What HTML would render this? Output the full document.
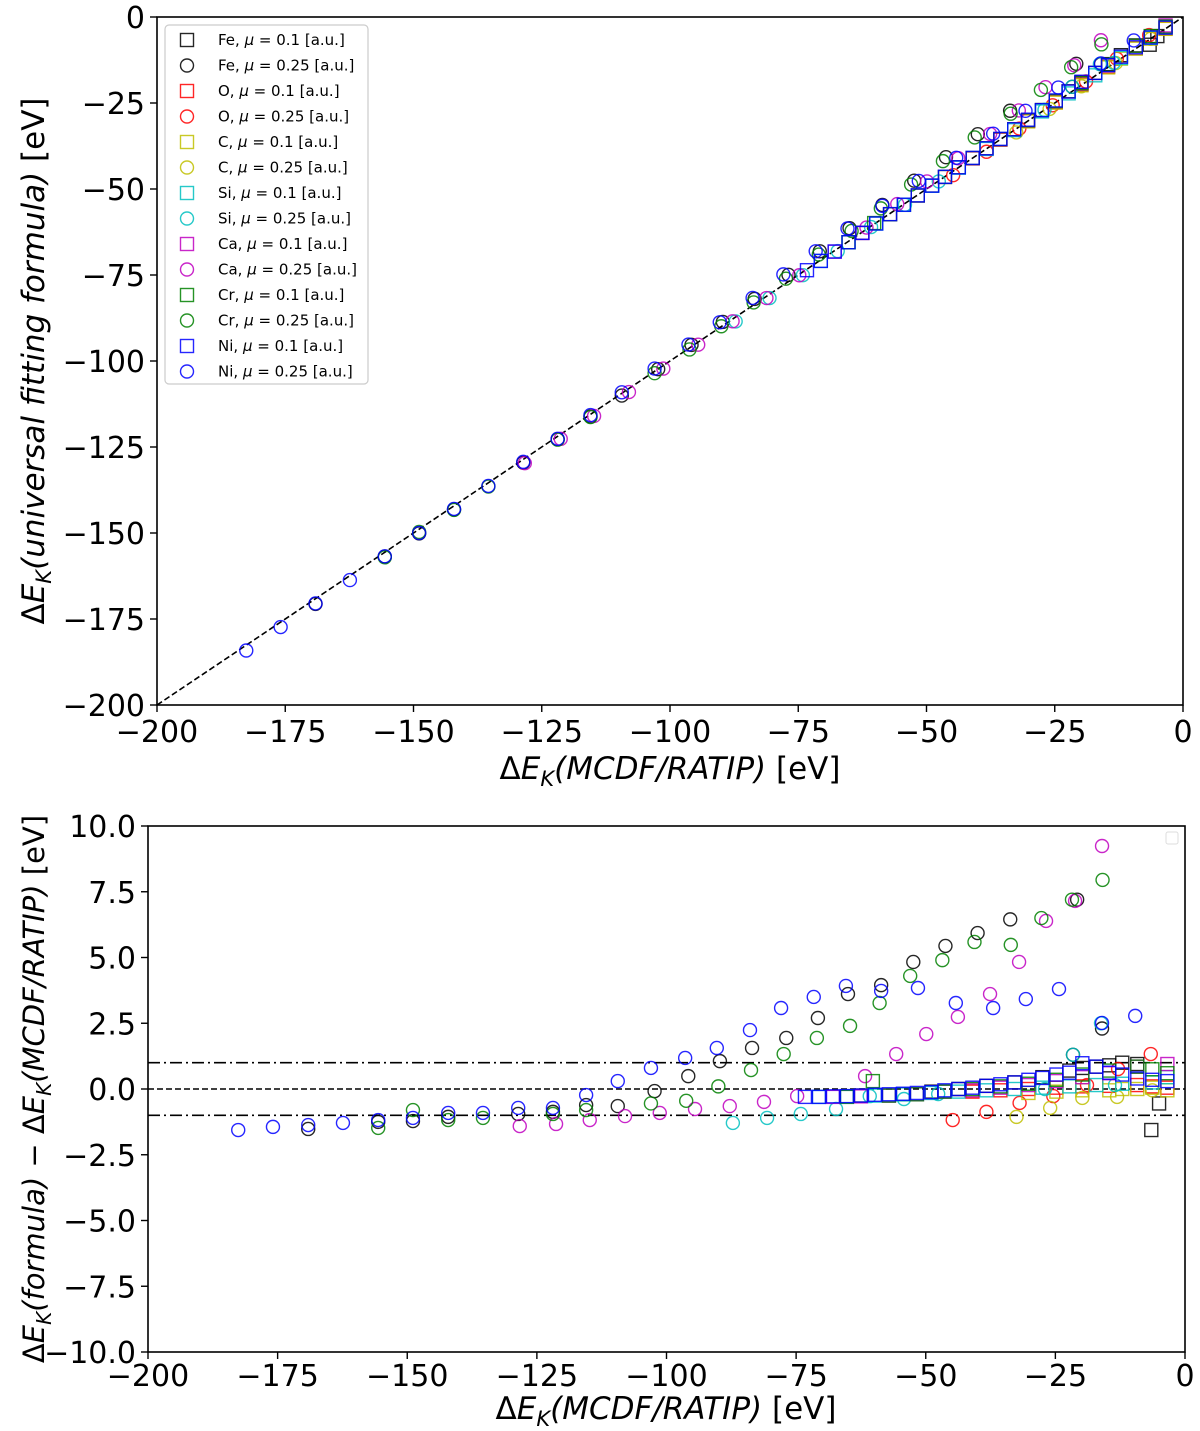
<!DOCTYPE html>
<html><head><meta charset="utf-8"><style>
body{margin:0;background:#fff;}
svg{display:block;font-family:"DejaVu Sans","Liberation Sans",sans-serif;}
</style></head><body>
<svg id="chart" width="1200" height="1431" viewBox="0 0 1200 1431" xmlns="http://www.w3.org/2000/svg">
<g id="topPanel"></g>
<g id="botPanel"></g>
</svg>
<script>
// ---- data: x = dE_K(MCDF/RATIP), r = formula - MCDF ----
const seriesNames = ["Fe","Fe","O","O","C","C","Si","Si","Ca","Ca","Cr","Cr","Ni","Ni"];
const seriesMu = ["0.1","0.25","0.1","0.25","0.1","0.25","0.1","0.25","0.1","0.25","0.1","0.25","0.1","0.25"];
const seriesColors = ["#000","#000","#f00","#f00","#bfbf00","#bfbf00","#00bfbf","#00bfbf","#bf00bf","#bf00bf","#008000","#008000","#00f","#00f"];
const feSqX = [-62.5,-54.4,-48.9,-43.7,-38.3,-32.9,-27.5,-22.3,-19.8,-17.1,-14.6,-12.1,-9.2,-5.0,-6.5];
const feSqR = [-0.25,-0.2,-0.1,0.0,0.12,0.25,0.45,0.7,0.8,0.85,0.9,1.0,0.95,-0.55,-1.56];
const feCiX = [-169.1,-155.6,-148.9,-142.1,-128.6,-121.9,-115.5,-109.4,-102.3,-95.8,-89.7,-83.5,-76.9,-70.8,-65.0,-58.6,-52.4,-46.2,-40.0,-33.7,-20.8,-16.0,-21.6];
const feCiR = [-1.52,-1.25,-1.22,-1.06,-0.95,-0.87,-0.61,-0.65,-0.08,0.49,1.06,1.56,1.94,2.70,3.61,3.95,4.83,5.44,5.93,6.45,7.2,2.3,1.3];
const oSqX = [-41.0,-35.6,-30.2,-24.8,-19.8,-14.6,-9.2,-6.3,-3.4];
const oSqR = [-0.1,-0.05,0.0,0.05,0.1,0.12,0.15,0.1,0.05];
const oCiX = [-44.8,-38.3,-31.9,-25.4,-18.9,-12.9,-6.6];
const oCiR = [-1.18,-0.87,-0.53,-0.27,0.15,0.76,1.33];
const cSqX = [-30.2,-24.8,-19.8,-14.6,-12.1,-9.2,-6.3,-3.4];
const cSqR = [-0.15,-0.1,-0.05,-0.05,0.0,0.0,0.05,-0.05];
const cCiX = [-32.5,-26.0,-19.8,-13.1,-6.3];
const cCiR = [-1.06,-0.72,-0.34,-0.3,-0.05];
const siSqX = [-70.6,-65.2,-59.8,-54.4,-48.9,-43.7,-38.3,-32.9,-27.5,-22.3,-17.1,-12.1,-6.3,-3.4];
const siSqR = [-0.3,-0.28,-0.25,-0.2,-0.15,-0.1,-0.05,0.0,0.05,0.1,0.15,0.2,0.25,0.45];
const siCiX = [-87.2,-80.6,-74.1,-67.3,-60.8,-54.2,-47.6,-27.0,-21.6,-16.2,-13.5];
const siCiR = [-1.29,-1.10,-0.95,-0.76,-0.27,-0.38,-0.19,0.0,1.3,2.5,0.15];
const caSqX = [-67.9,-62.5,-57.1,-51.7,-46.4,-41.0,-35.6,-30.2,-24.8,-19.8,-14.6,-9.2,-3.4];
const caSqR = [-0.3,-0.28,-0.25,-0.2,-0.1,-0.05,0.05,0.15,0.3,0.45,0.6,0.85,0.95];
const caCiX = [-128.3,-121.3,-114.8,-108.0,-101.3,-94.5,-87.8,-81.2,-74.8,-61.7,-55.7,-49.9,-43.8,-37.6,-32.0,-26.8,-21.2,-16.0];
const caCiR = [-1.41,-1.33,-1.18,-1.03,-0.91,-0.76,-0.65,-0.49,-0.27,0.49,1.33,2.09,2.74,3.61,4.83,6.39,7.15,9.24];
const crSqX = [-65.2,-60.2,-57.1,-51.7,-46.4,-41.0,-35.6,-30.2,-24.8,-19.8,-14.6,-9.2,-6.3,-3.4];
const crSqR = [-0.3,0.3,-0.25,-0.2,-0.1,0.0,0.1,0.2,0.35,0.55,0.7,0.85,0.75,0.6];
const crCiX = [-155.6,-148.9,-142.1,-135.4,-121.9,-115.5,-103.0,-96.2,-90.0,-83.7,-77.4,-71.0,-64.6,-58.9,-53.0,-46.8,-40.6,-33.6,-27.7,-21.8,-15.9];
const crCiR = [-1.48,-0.8,-1.18,-1.10,-0.95,-0.80,-0.55,-0.45,0.1,0.72,1.33,1.94,2.40,3.27,4.30,4.90,5.59,5.48,6.5,7.2,7.95];
const niSqX = [-73.3,-70.6,-67.9,-65.2,-62.5,-59.8,-57.1,-54.4,-51.7,-48.9,-46.4,-43.7,-41.0,-38.3,-35.6,-32.9,-30.2,-27.5,-24.8,-22.3,-19.8,-17.1,-14.6,-12.1,-9.2,-6.3,-3.4];
const niSqR = [-0.30,-0.30,-0.28,-0.27,-0.25,-0.22,-0.20,-0.18,-0.15,-0.12,-0.05,0.0,0.05,0.12,0.18,0.25,0.35,0.42,0.55,0.62,0.98,0.85,0.62,0.55,0.40,0.35,0.30];
const niCiX = [-182.6,-175.9,-169.1,-162.4,-155.6,-148.9,-142.1,-135.4,-128.6,-121.9,-115.5,-109.4,-103.0,-96.4,-90.3,-83.9,-77.9,-71.6,-65.4,-58.6,-51.5,-44.2,-37.0,-30.7,-24.3,-16.0,-9.6];
const niCiR = [-1.56,-1.44,-1.37,-1.29,-1.18,-1.10,-0.91,-0.91,-0.72,-0.72,-0.23,0.30,0.80,1.18,1.56,2.24,3.08,3.50,3.92,3.73,3.84,3.27,3.08,3.42,3.80,2.51,2.78];
const topTicksX = [-200,-175,-150,-125,-100,-75,-50,-25,0];
const topTicksY = [0,-25,-50,-75,-100,-125,-150,-175,-200];
const botTicksY = [10,7.5,5,2.5,0,-2.5,-5,-7.5,-10];

const allX = [feSqX,feCiX,oSqX,oCiX,cSqX,cCiX,siSqX,siCiX,caSqX,caCiX,crSqX,crCiX,niSqX,niCiX];
const allR = [feSqR,feCiR,oSqR,oCiR,cSqR,cCiR,siSqR,siCiR,caSqR,caCiR,crSqR,crCiR,niSqR,niCiR];

const NS="http://www.w3.org/2000/svg";
function mk(tag,attrs,parent){const e=document.createElementNS(NS,tag);for(const k in attrs)e.setAttribute(k,attrs[k]);parent.appendChild(e);return e;}
const X1=v=>157+(v+200)*5.13, Y1=v=>17-v*3.44;
const X2=v=>148+(v+200)*5.185, Y2=v=>1089-v*26.3;
const fmt=v=>(v<0?"\u2212":"")+Math.abs(v);
const fmt1=v=>(v<0?"\u2212":"")+Math.abs(v).toFixed(1);

function marker(g,i,cx,cy,name){
  const col=seriesColors[i];let e;
  if(i%2===0){e=mk("rect",{x:cx-6.5,y:cy-6.5,width:13,height:13,fill:"none",stroke:col,"stroke-width":1.4,opacity:0.85},g);}
  else{e=mk("circle",{cx:cx,cy:cy,r:6.5,fill:"none",stroke:col,"stroke-width":1.4,opacity:0.85},g);}
  
  
}

// ---- top panel ----
const topG=document.getElementById("topPanel");
let ln=mk("line",{x1:X1(-200),y1:Y1(-200),x2:X1(0),y2:Y1(0),stroke:"#000","stroke-width":1.6,"stroke-dasharray":"6,3"},topG);


for(let i=0;i<14;i++){for(let j=0;j<allX[i].length;j++){const x=allX[i][j];marker(topG,i,X1(x),Y1(x+allR[i][j]),'top-point');}}
let fr=mk("rect",{x:157,y:17,width:1026,height:688,fill:"none",stroke:"#000","stroke-width":1.6},topG);


topTicksX.forEach(v=>{const x=X1(v);mk("line",{x1:x,y1:705,x2:x,y2:712,stroke:"#000","stroke-width":1.4},topG);
  const t=mk("text",{x:x,y:742,"font-size":30,"text-anchor":"middle"},topG);t.textContent=fmt(v);
  
  });
topTicksY.forEach(v=>{const y=Y1(v);mk("line",{x1:150,y1:y,x2:157,y2:y,stroke:"#000","stroke-width":1.4},topG);
  const t=mk("text",{x:145,y:y+11,"font-size":30,"text-anchor":"end"},topG);t.textContent=fmt(v);
  
  });
let t=mk("text",{x:670,y:779,"font-size":31,"text-anchor":"middle"},topG);
t.innerHTML='Δ<tspan font-style="italic">E</tspan><tspan font-style="italic" font-size="21" dy="7">K</tspan><tspan dy="-7" font-style="italic">(MCDF/RATIP)</tspan> [eV]';


t=mk("text",{x:0,y:0,"font-size":31,"text-anchor":"middle",transform:"translate(44,361) rotate(-90)"},topG);
t.innerHTML='Δ<tspan font-style="italic">E</tspan><tspan font-style="italic" font-size="21" dy="7">K</tspan><tspan dy="-7" font-style="italic">(universal fitting formula)</tspan> [eV]';


// legend
const lg=mk("g",{},topG);


mk("rect",{x:165,y:25,width:203,height:359,rx:4,fill:"#fff",stroke:"#ccc","stroke-width":1.2},lg);
for(let i=0;i<14;i++){
  const y=40+i*25.5;
  const e=mk("g",{},lg);
  
  
  marker(e,i,187,y,'legend-marker');
  const tx=mk("text",{x:218,y:y+5,"font-size":15},e);
  tx.innerHTML=seriesNames[i]+', <tspan font-style="italic">μ</tspan> = '+seriesMu[i]+' [a.u.]';
}

// ---- bottom panel ----
const botG=document.getElementById("botPanel");
[[0,"6,3","zero-line"],[1,"12,4,2,4","upper-band-line"],[-1,"12,4,2,4","lower-band-line"]].forEach(d=>{
  const l=mk("line",{x1:148,x2:1185,y1:Y2(d[0]),y2:Y2(d[0]),stroke:"#000","stroke-width":1.6,"stroke-dasharray":d[1]},botG);
  
  
});
for(let i=0;i<14;i++){for(let j=0;j<allX[i].length;j++){marker(botG,i,X2(allX[i][j]),Y2(allR[i][j]),'residual-point');}}
fr=mk("rect",{x:148,y:826,width:1037,height:526,fill:"none",stroke:"#000","stroke-width":1.6},botG);


let el=mk("rect",{x:1166,y:832,width:12,height:12,rx:2,fill:"#fff",stroke:"#ddd","stroke-width":1},botG);


topTicksX.forEach(v=>{const x=X2(v);mk("line",{x1:x,y1:1352,x2:x,y2:1359,stroke:"#000","stroke-width":1.4},botG);
  const t=mk("text",{x:x,y:1386,"font-size":30,"text-anchor":"middle"},botG);t.textContent=fmt(v);
  
  });
botTicksY.forEach(v=>{const y=Y2(v);mk("line",{x1:141,y1:y,x2:148,y2:y,stroke:"#000","stroke-width":1.4},botG);
  const t=mk("text",{x:136,y:y+11,"font-size":30,"text-anchor":"end"},botG);t.textContent=fmt1(v);
  
  });
t=mk("text",{x:666,y:1419,"font-size":31,"text-anchor":"middle"},botG);
t.innerHTML='Δ<tspan font-style="italic">E</tspan><tspan font-style="italic" font-size="21" dy="7">K</tspan><tspan dy="-7" font-style="italic">(MCDF/RATIP)</tspan> [eV]';


t=mk("text",{x:0,y:0,"font-size":29,"text-anchor":"middle",transform:"translate(44,1089) rotate(-90)"},botG);
t.innerHTML='Δ<tspan font-style="italic">E</tspan><tspan font-style="italic" font-size="20" dy="7">K</tspan><tspan dy="-7" font-style="italic">(formula)</tspan> − Δ<tspan font-style="italic">E</tspan><tspan font-style="italic" font-size="20" dy="7">K</tspan><tspan dy="-7" font-style="italic">(MCDF/RATIP)</tspan> [eV]';


</script>
</body></html>
